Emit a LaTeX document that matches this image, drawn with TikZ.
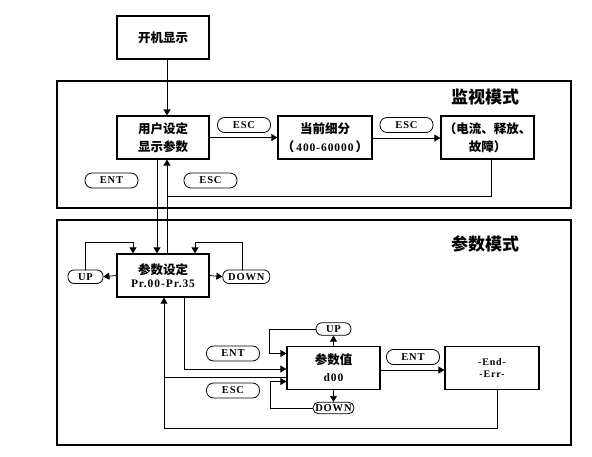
\documentclass[tikz,border=0pt]{standalone}
\usepackage{fontspec}
\setmainfont{Liberation Serif}
\newfontfamily\cjk{Noto Sans CJK SC}
\newfontfamily\lat{Liberation Serif}[LetterSpace=8]
\usetikzlibrary{arrows.meta}
\begin{document}
\begin{tikzpicture}[x=1pt,y=-1pt]
  % make all path lines a little thicker, blocks and frames thicker still
  \tikzstyle{every path}=[line width=0.8pt]
  \tikzstyle{block}=[draw,line width=1.2pt,minimum width=92pt,minimum height=43pt,align=center,inner sep=1pt,font=\cjk\bfseries\fontsize{12.5}{18}\selectfont]
  \tikzstyle{key}=[draw,rounded corners=7pt,minimum height=15pt,minimum width=53pt,inner sep=1pt,font=\lat\bfseries\fontsize{10.5}{12}\selectfont]
  \tikzstyle{frame}=[draw,line width=1.2pt]
  \tikzstyle{title}=[font=\cjk\bfseries\fontsize{17}{20}\selectfont]
  \tikzstyle{link}=[-{Triangle[length=6pt,width=7pt]}]

  \useasboundingbox (0,0) rectangle (592,457);

  % the two mode frames
  \draw[frame] (57,81) rectangle (571,208);
  \draw[frame] (57,220) rectangle (571,445);
  \node[title] (monT) at (485.00,97.00) {监视模式};
  \node[title] (parT) at (485.00,244.00) {参数模式};

  % Draw the blocks
  \node[block] (boot)  at (163.00,37.50)  {开机显示};
  \node[block] (user)  at (163.00,137.50) {用户设定\\显示参数};
  \node[block,minimum width=94pt] (cur) at (325.00,137.50) {当前细分\\（\,{\lat\fontsize{11.5}{18}\selectfont 400-60000}\,）};
  \node[block,minimum width=93pt] (fault) at (487.50,137.50) {（电流、释放、\\故障）};
  \node[block] (par)   at (163.00,275.50) {参数设定\\[-4.5pt]{\lat\fontsize{11.5}{13}\selectfont Pr.00-Pr.35}};
  \node[block,minimum width=93pt] (val) at (333.50,368.00) {参数值\\[-1pt]{\lat\fontsize{11.5}{13}\selectfont d00}};
  \node[block,minimum width=94pt,font=\lat\bfseries\fontsize{10}{12}\selectfont] (endb) at (492.00,368.00) {-End-\\-Err-};

  % key labels
  \node[key] (esc1) at (244.00,125.00) {ESC};
  \node[key] (esc2) at (406.50,125.00) {ESC};
  \node[key] (ent1) at (111.50,180.50) {ENT};
  \node[key] (esc3) at (210.50,180.50) {ESC};
  \node[key,minimum width=35pt,minimum height=13.5pt,rounded corners=6pt] (up1) at (85.50,276.70) {UP};
  \node[key,minimum width=47pt,minimum height=13.5pt,rounded corners=6pt] (down1) at (246.30,276.70) {DOWN};
  \node[key] (ent2) at (233.00,353.50) {ENT};
  \node[key] (esc4) at (233.00,390.50) {ESC};
  \node[key] (ent3) at (413.00,357.00) {ENT};
  \node[key,minimum width=35pt,minimum height=12.5pt,rounded corners=6pt] (up2) at (333.50,329.00) {UP};
  \node[key,minimum width=41pt,minimum height=11.5pt,rounded corners=5.5pt,inner sep=0.5pt] (down2) at (333.50,408.00) {DOWN};

  % monitor mode connectors
  \draw[link] ([xshift=4pt]boot.south) -- ([xshift=4pt]user.north);
  \draw[link] (user.east) -- (cur.west);
  \draw[link] ([yshift=-0.5pt]cur.east) -- ([yshift=-0.5pt]fault.west);
  \draw[link] ([xshift=-6pt]user.south) -- ([xshift=-6pt]par.north);
  \draw[link] ([xshift=4pt]par.north) -- ([xshift=4pt]user.south);
  \coordinate (jn) at (167.00,196.00);
  \draw ([xshift=4pt]fault.south) |- (jn);

  % parameter mode connectors
  \draw[link] (par.west) -- (up1.east);
  \draw[link] (up1.north) -- ++(0,-27) -| ([xshift=-30pt]par.north);
  \draw[link] (par.east) -- (down1.west);
  \draw[link] ([xshift=-3.5pt]down1.north) -- ++(0,-27) -| ([xshift=32pt]par.north);
  \draw[link] ([xshift=21pt]par.south) |- ([yshift=-1pt]val.west);
  \coordinate (bk) at (164.00,428.00);
  \draw[link] ([xshift=5pt]endb.south) |- (bk) -- ([xshift=1pt]par.south);
  \draw ([yshift=-9pt]val.west) -- ([yshift=-9pt]val.west -| bk);
  \draw[link] (val.north) -- (up2.south);
  \draw[link] (up2.west) -- ++(-46,0) |- ([yshift=14.5pt]val.west);
  \draw[link] (val.south) -- (down2.north);
  \draw[link] (down2.west) -- ++(-42.5,0) |- ([yshift=-13.5pt]val.west);
  \draw[link] ([yshift=-2pt]val.east) -- ([yshift=-2pt]endb.west);
\end{tikzpicture}
\end{document}
